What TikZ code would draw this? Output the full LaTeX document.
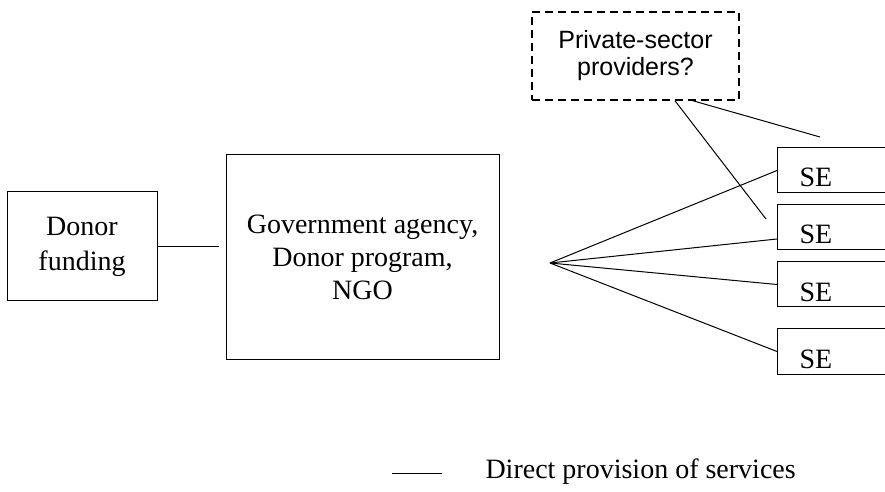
\documentclass[tikz,border=0pt]{standalone}
\usepackage{fontspec}
\setmainfont{Liberation Serif}
\newfontfamily\arialfont{Liberation Sans}
\begin{document}
\begin{tikzpicture}[x=0.5pt, y=-0.5pt, line width=0.5pt,
        plainbox/.style={draw, align=center, font=\fontsize{14}{16.5}\selectfont},
        sebox/.style={draw, anchor=west, inner xsep=11pt, inner ysep=0pt, text width=40pt,
            align=left, text height=19.5pt, text depth=3pt, font=\fontsize{14}{16}\selectfont},
        privbox/.style={draw, dash pattern=on 4pt off 2.5pt, line width=0.8pt, align=center,
            minimum width=103.5pt, minimum height=44pt, font=\arialfont\fontsize{12.5}{13.5}\selectfont}]
        \useasboundingbox (0,0) rectangle (885,492);

        \node[plainbox, minimum width=75pt, minimum height=54.5pt,
            font=\fontsize{14}{17.5}\selectfont] (donor) at (82,246.5) {Donor\\funding};
        \node[plainbox, minimum width=136.5pt, minimum height=102pt] (gov) at (362.5,257) {Government agency,\\Donor program,\\NGO};
        \node[privbox] (priv) at (635.5,56) {Private-sector\\providers?};

        \node[sebox] (se1) at (777,170.5) {SE};
        \node[sebox] (se2) at (777,227) {SE};
        \node[sebox] (se3) at (777,284.5) {SE};
        \node[sebox] (se4) at (777,351.5) {SE};

        \coordinate (fan) at (550,263);
        \coordinate (privA) at (766,219);
        \coordinate (privB) at (820,137);

        \draw[shorten >=3.5pt] (donor.east) -- (donor.east -| gov.west);

        \draw (fan) -- (se1.west);
        \draw (fan) -- ([yshift=-6pt]se2.west);
        \draw (fan) -- (se3.west);
        \draw (fan) -- (se4.west);

        \draw ([xshift=19.75pt]priv.south) -- (privA);
        \draw ([xshift=28.75pt]priv.south) -- (privB);

        %legend
        \coordinate (legA) at (392,473);
        \coordinate (legB) at (442,473);
        \draw (legA) -- (legB);
        \node[anchor=base west, inner sep=0pt, font=\fontsize{14}{16}\selectfont] (legtxt) at (485,478) {Direct provision of services};
    \end{tikzpicture}
\end{document}
